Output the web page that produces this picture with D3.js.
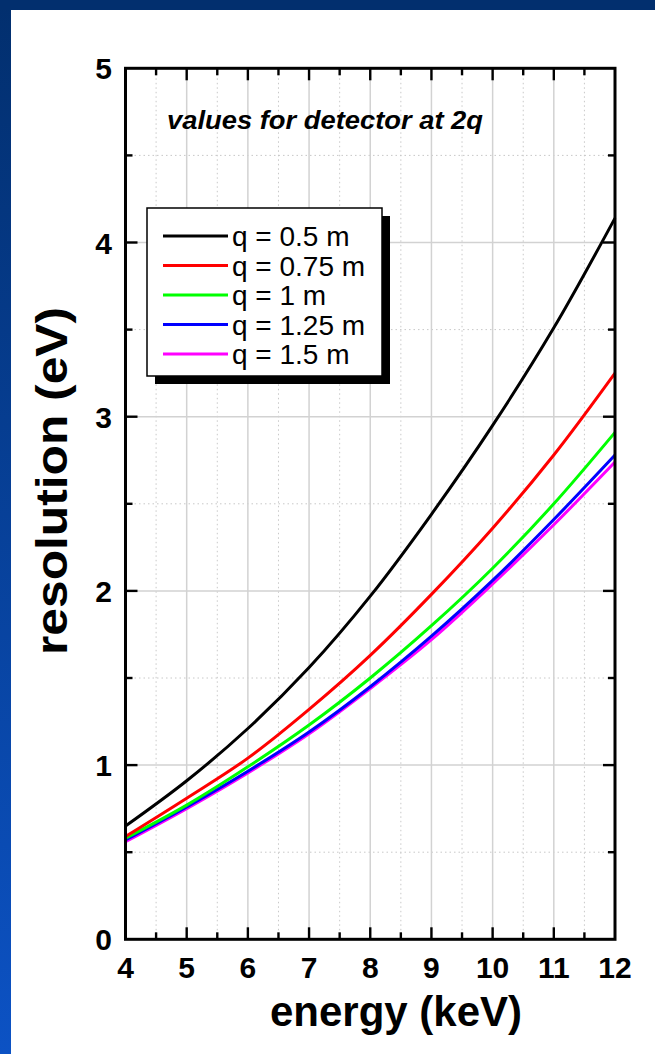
<!DOCTYPE html>
<html><head><meta charset="utf-8">
<script src="https://cdn.jsdelivr.net/npm/d3@7"></script>
<style>html,body{margin:0;padding:0;background:#fff;}svg{display:block;}</style>
</head><body>
<script>
const energies = [4, 5, 6, 7, 8, 9, 10, 11, 12];
const seriesNames = ["q = 0.5 m", "q = 0.75 m", "q = 1 m", "q = 1.25 m", "q = 1.5 m"];
const seriesColors = ["#000000", "#ff0000", "#00ff00", "#0000ff", "#ff00ff"];
const res_q050 = [0.65, 0.91, 1.21, 1.56, 1.97, 2.44, 2.95, 3.51, 4.14];
const res_q075 = [0.59, 0.81, 1.04, 1.32, 1.63, 1.98, 2.36, 2.78, 3.25];
const res_q100 = [0.58, 0.77, 0.99, 1.23, 1.50, 1.80, 2.13, 2.50, 2.91];
const res_q125 = [0.57, 0.76, 0.965, 1.19, 1.45, 1.74, 2.06, 2.41, 2.78];
const res_q150 = [0.56, 0.75, 0.955, 1.18, 1.44, 1.72, 2.04, 2.38, 2.74];
const xTicks = [4, 5, 6, 7, 8, 9, 10, 11, 12];
const yTicks = [0, 1, 2, 3, 4, 5];
const xMinor = [4.5, 5.5, 6.5, 7.5, 8.5, 9.5, 10.5, 11.5];
const yMinor = [0.5, 1.5, 2.5, 3.5, 4.5];
const titleText = "values for detector at 2q";
const xLabel = "energy (keV)";
const yLabel = "resolution (eV)";

const allSeries = [res_q050, res_q075, res_q100, res_q125, res_q150];
const W = 655, H = 1054;
const svg = d3.select("body").append("svg").attr("width", W).attr("height", H);
const defs = svg.append("defs");
const grad = defs.append("linearGradient").attr("id", "sideGrad").attr("x1", 0).attr("y1", 0).attr("x2", 0).attr("y2", 1);
grad.append("stop").attr("offset", "0%").attr("stop-color", "#022f6e");
grad.append("stop").attr("offset", "100%").attr("stop-color", "#0c52c4");

svg.append("rect").attr("x", 0).attr("y", 0).attr("width", W).attr("height", H).attr("fill", "#fff");
svg.append("rect").attr("x", 0).attr("y", 0).attr("width", 11).attr("height", H).attr("fill", "url(#sideGrad)");
svg.append("rect").attr("x", 0).attr("y", 0).attr("width", W).attr("height", 10).attr("fill", "#022f6e");

const x = d3.scaleLinear().domain([4, 12]).range([125.5, 615]);
const y = d3.scaleLinear().domain([0, 5]).range([939.3, 68.3]);

const font = "Liberation Sans, Arial, Helvetica, sans-serif";

// grid
const g = svg.append("g");
g.selectAll(".xmin").data(xMinor).join("line")
  .attr("x1", d => x(d)).attr("x2", d => x(d)).attr("y1", y(0)).attr("y2", y(5))
  .attr("stroke", "#c8c8c8").attr("stroke-width", 1).attr("stroke-dasharray", "1.5,3");
g.selectAll(".ymin").data(yMinor).join("line")
  .attr("y1", d => y(d)).attr("y2", d => y(d)).attr("x1", x(4)).attr("x2", x(12))
  .attr("stroke", "#c8c8c8").attr("stroke-width", 1).attr("stroke-dasharray", "1.5,3");
g.selectAll(".xmaj").data(xTicks).join("line")
  .attr("x1", d => x(d)).attr("x2", d => x(d)).attr("y1", y(0)).attr("y2", y(5))
  .attr("stroke", "#d2d2d2").attr("stroke-width", 1.5);
g.selectAll(".ymaj").data(yTicks).join("line")
  .attr("y1", d => y(d)).attr("y2", d => y(d)).attr("x1", x(4)).attr("x2", x(12))
  .attr("stroke", "#d2d2d2").attr("stroke-width", 1.5);

// title
svg.append("text").attr("x", 167).attr("y", 129).text(titleText)
  .attr("font-family", font).attr("font-weight", "bold").attr("font-style", "italic")
  .attr("font-size", 25).attr("textLength", 316).attr("lengthAdjust", "spacingAndGlyphs");

// curves
const line = d3.line().x((d, i) => x(energies[i])).y(d => y(d)).curve(d3.curveCatmullRom.alpha(0.5));
const lineData = allSeries.map((s, i) => ({ vals: s, color: seriesColors[i] }));
svg.append("g").selectAll("path").data(lineData.slice().reverse()).join("path")
  .attr("d", d => line(d.vals)).attr("fill", "none").attr("stroke", d => d.color)
  .attr("stroke-width", 3).attr("stroke-linejoin", "round");

// axes with inward ticks
const tickStyle = sel => sel.attr("stroke", "#000").attr("stroke-width", 2.4);
const axG = svg.append("g");
[[y(0), -1], [y(5), 1]].forEach(([yy, dir]) => {
  axG.selectAll(null).data(xTicks.slice(1, -1)).join("line")
    .attr("x1", d => x(d)).attr("x2", d => x(d)).attr("y1", yy).attr("y2", yy + dir * 12).call(tickStyle);
  axG.selectAll(null).data(xMinor).join("line")
    .attr("x1", d => x(d)).attr("x2", d => x(d)).attr("y1", yy).attr("y2", yy + dir * 7).call(tickStyle);
});
[[x(4), 1], [x(12), -1]].forEach(([xx, dir]) => {
  axG.selectAll(null).data(yTicks.slice(1, -1)).join("line")
    .attr("y1", d => y(d)).attr("y2", d => y(d)).attr("x1", xx).attr("x2", xx + dir * 12).call(tickStyle);
  axG.selectAll(null).data(yMinor).join("line")
    .attr("y1", d => y(d)).attr("y2", d => y(d)).attr("x1", xx).attr("x2", xx + dir * 7).call(tickStyle);
});
axG.append("rect").attr("x", x(4)).attr("y", y(5)).attr("width", x(12) - x(4)).attr("height", y(0) - y(5))
  .attr("fill", "none").attr("stroke", "#000").attr("stroke-width", 3);

// tick labels
svg.append("g").selectAll("text").data(xTicks).join("text")
  .attr("x", d => x(d)).attr("y", 978).attr("text-anchor", "middle")
  .attr("font-family", font).attr("font-weight", "bold").attr("font-size", 30).text(d => d);
svg.append("g").selectAll("text").data(yTicks).join("text")
  .attr("x", 112).attr("y", d => y(d) + 11).attr("text-anchor", "end")
  .attr("font-family", font).attr("font-weight", "bold").attr("font-size", 30).text(d => d);

// axis labels
svg.append("text").attr("x", 396).attr("y", 1026).attr("text-anchor", "middle")
  .attr("font-family", font).attr("font-weight", "bold").attr("font-size", 42).text(xLabel);
svg.append("text").attr("transform", "translate(67,481) rotate(-90)").attr("text-anchor", "middle")
  .attr("font-family", font).attr("font-weight", "bold").attr("font-size", 44)
  .attr("textLength", 348).attr("lengthAdjust", "spacingAndGlyphs").text(yLabel);

// legend
const lg = svg.append("g");
const lx = 147, ly = 208, lw = 235, lh = 168, rowH = 29.5, row0 = 236;
lg.append("rect").attr("x", lx + 8).attr("y", ly + 8).attr("width", lw).attr("height", lh).attr("fill", "#000");
lg.append("rect").attr("x", lx).attr("y", ly).attr("width", lw).attr("height", lh).attr("fill", "#fff")
  .attr("stroke", "#000").attr("stroke-width", 1.5);
const rows = lg.selectAll("g.row").data(seriesNames).join("g").attr("class", "row")
  .attr("transform", (d, i) => `translate(0,${row0 + i * rowH})`);
rows.append("line").attr("x1", 163).attr("x2", 228).attr("y1", 0).attr("y2", 0)
  .attr("stroke", (d, i) => seriesColors[i]).attr("stroke-width", 3);
rows.append("text").attr("x", 232).attr("y", 10).attr("font-family", font).attr("font-size", 28).text(d => d);
</script>
</body></html>
